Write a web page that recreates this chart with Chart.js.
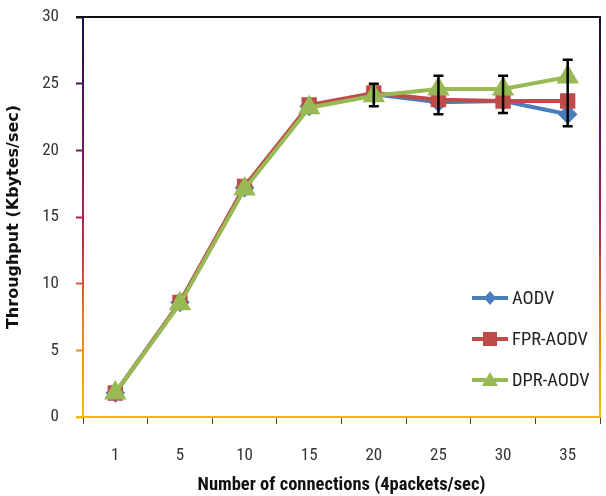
<!DOCTYPE html>
<html>
<head>
<meta charset="utf-8">
<script src="https://cdn.jsdelivr.net/npm/chart.js@4.4.0/dist/chart.umd.min.js"></script>
<style>
html,body{margin:0;padding:0;background:#fff;}
#wrap{width:606px;height:496px;position:relative;}
</style>
</head>
<body>
<div id="wrap"><canvas id="c" width="606" height="496"></canvas></div>
<script>
const categories = ['1','5','10','15','20','25','30','35'];
const aodv    = [1.8, 8.6, 17.2, 23.3, 24.2, 23.6, 23.7, 22.7];
const fprAodv = [1.8, 8.6, 17.3, 23.4, 24.3, 23.8, 23.7, 23.7];
const dprAodv = [1.8, 8.5, 17.1, 23.2, 24.1, 24.6, 24.6, 25.5];
const errLow  = [null, null, null, null, 23.3, 22.7, 22.8, 21.8];
const errHigh = [null, null, null, null, 25.0, 25.6, 25.6, 26.8];
const yTicks  = [0, 5, 10, 15, 20, 25, 30];

const NARROW = "'Liberation Sans Narrow', 'Roboto Condensed', Roboto, sans-serif";

function gradColor(t){
  const stops=[[0,[245,190,0]],[0.25,[235,120,30]],[0.45,[190,40,70]],[0.7,[110,20,100]],[1,[20,20,60]]];
  for(let i=1;i<stops.length;i++){
    if(t<=stops[i][0]){
      const a=stops[i-1],b=stops[i];const f=(t-a[0])/(b[0]-a[0]);
      const c=a[1].map((v,k)=>Math.round(v+(b[1][k]-v)*f));
      return `rgb(${c[0]},${c[1]},${c[2]})`;
    }
  }
  return 'rgb(20,20,60)';
}

const frame = {
  id:'frame',
  afterDraw(chart){
    const {ctx, chartArea:a} = chart;
    ctx.save();
    const g = ctx.createLinearGradient(0,a.bottom,0,a.top);
    [0,0.25,0.45,0.7,1].forEach(s=>g.addColorStop(s,gradColor(s)));
    ctx.lineWidth=2;
    ctx.strokeStyle=g;
    ctx.beginPath();ctx.moveTo(a.left,a.bottom);ctx.lineTo(a.left,a.top);ctx.stroke();
    ctx.beginPath();ctx.moveTo(a.right,a.bottom);ctx.lineTo(a.right,a.top);ctx.stroke();
    ctx.strokeStyle='#111';
    ctx.beginPath();ctx.moveTo(a.left-7,a.top);ctx.lineTo(a.right+1,a.top);ctx.stroke();
    ctx.strokeStyle='#f2b705';
    ctx.beginPath();ctx.moveTo(a.left-7,a.bottom);ctx.lineTo(a.right+1,a.bottom);ctx.stroke();
    ctx.restore();
  }
};

const errorBars = {
  id:'errorBars',
  afterDatasetsDraw(chart){
    const {ctx, scales:{x,y}} = chart;
    ctx.save();
    ctx.strokeStyle='#000';ctx.lineWidth=2.5;
    errLow.forEach((lo,i)=>{
      if(lo==null) return;
      const px=x.getPixelForValue(i), y1=y.getPixelForValue(lo), y2=y.getPixelForValue(errHigh[i]);
      ctx.beginPath();ctx.moveTo(px,y1);ctx.lineTo(px,y2);
      ctx.moveTo(px-5,y1);ctx.lineTo(px+5,y1);
      ctx.moveTo(px-5,y2);ctx.lineTo(px+5,y2);
      ctx.stroke();
    });
    ctx.restore();
  }
};

const customLegend = {
  id:'customLegend',
  afterDraw(chart){
    const {ctx} = chart;
    const ds = chart.data.datasets;
    ctx.save();
    ds.forEach((d,i)=>{
      const yy = 298 + i*41, x0 = 472, x1 = 508;
      ctx.strokeStyle=d.borderColor;ctx.lineWidth=4;
      ctx.beginPath();ctx.moveTo(x0,yy);ctx.lineTo(x1,yy);ctx.stroke();
      ctx.fillStyle=d.pointBackgroundColor;
      const cx=(x0+x1)/2;
      ctx.beginPath();
      if(d.pointStyle==='rectRot'){ctx.moveTo(cx,yy-7);ctx.lineTo(cx+6,yy);ctx.lineTo(cx,yy+7);ctx.lineTo(cx-6,yy);}
      else if(d.pointStyle==='rect'){ctx.rect(cx-7,yy-7,14,14);}
      else {ctx.moveTo(cx,yy-8);ctx.lineTo(cx+8,yy+6);ctx.lineTo(cx-8,yy+6);}
      ctx.closePath();ctx.fill();
      ctx.fillStyle='#222';ctx.font='18.5px '+NARROW;ctx.textBaseline='middle';ctx.textAlign='left';
      ctx.fillText(d.label, x1+4, yy+1);
    });
    ctx.restore();
  }
};

function mk(label, data, color, style, r, order){
  return {label, data, borderColor:color, backgroundColor:color, pointBackgroundColor:color,
    pointBorderColor:color, pointStyle:style, pointRadius:r, pointHoverRadius:r, borderWidth:4, tension:0, order};
}

new Chart(document.getElementById('c'), {
  type:'line',
  data:{
    labels:categories,
    datasets:[
      mk('AODV', aodv, '#4A7EBB', 'rectRot', 7, 2),
      mk('FPR-AODV', fprAodv, '#BE4B48', 'rect', 8, 1),
      mk('DPR-AODV', dprAodv, '#98B954', 'triangle', 9, 0)
    ]
  },
  options:{
    responsive:false, animation:false, devicePixelRatio:1,
    layout:{autoPadding:false, padding:{top:17,right:6,left:0,bottom:0}},
    plugins:{legend:{display:false}, tooltip:{enabled:false}},
    scales:{
      x:{
        offset:true,
        grid:{offset:true, drawOnChartArea:false, tickLength:7, color:'#444', tickWidth:1},
        border:{display:false},
        ticks:{padding:22, color:'#333', font:{size:17, family:NARROW}},
        title:{display:true, text:'Number of connections (4packets/sec)', color:'#111',
          font:{size:18.5, weight:'bold', family:NARROW}, padding:{top:0,bottom:0}},
        afterFit(s){ s.height = 79; s.paddingLeft = 0; s.paddingRight = 0; }
      },
      y:{
        min:0, max:30,
        afterBuildTicks(s){ s.ticks = yTicks.map(v=>({value:v})); },
        grid:{drawOnChartArea:false, tickLength:7, tickWidth:2,
          tickColor:(c)=>gradColor((c.tick?c.tick.value:0)/30)},
        border:{display:false},
        ticks:{padding:17, color:'#333', font:{size:17, family:NARROW}},
        title:{display:true, text:'Throughput (Kbytes/sec)', color:'#111',
          font:{size:16, weight:'bold', family:"'DejaVu Sans', sans-serif"}, padding:{top:4,bottom:0}},
        afterFit(s){ s.width = 83; s.paddingTop = 0; s.paddingBottom = 0; }
      }
    }
  },
  plugins:[frame, errorBars, customLegend]
});
</script>
</body>
</html>
